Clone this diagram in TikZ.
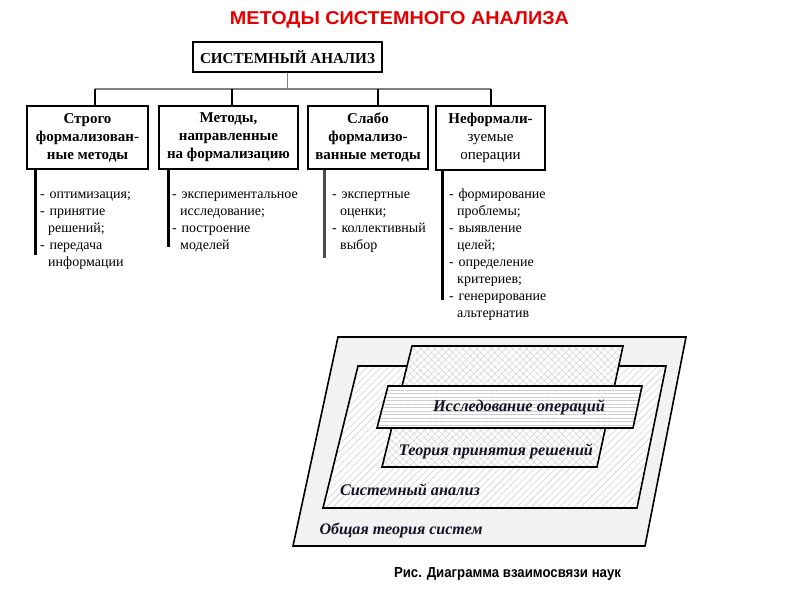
\documentclass[tikz,border=0pt]{standalone}
\usepackage{fontspec}
\setmainfont{Liberation Serif}
\newfontfamily\arialfont{Liberation Sans}
\usetikzlibrary{patterns.meta}
\definecolor{titlered}{RGB}{228,0,0}
\definecolor{inkdark}{RGB}{20,20,40}
\begin{document}
\begin{tikzpicture}[x=1pt,y=-1pt,
  catbox/.style={draw,line width=1.6pt,align=center,inner sep=0pt,font=\bfseries\fontsize{15}{18}\selectfont},
  listnode/.style={anchor=base west,inner sep=0pt,align=left,text width=150pt,font=\fontsize{14}{17}\selectfont},
  vbar/.style={line width=3pt},
  trunk/.style={line width=1.4pt,gray},
  drop/.style={line width=1.4pt},
  plane/.style={line width=1.6pt,line join=miter},
  planelabel/.style={inner sep=0pt,text=inkdark,font=\bfseries\itshape\fontsize{14}{16}\selectfont}
]
\useasboundingbox (0,0) rectangle (800,600);

% title
\node[anchor=base,inner sep=0pt,text=titlered] (title) at (399.5,24)
  {\resizebox{339pt}{13pt}{\arialfont\bfseries МЕТОДЫ СИСТЕМНОГО АНАЛИЗА}};

% top box
\node[catbox,minimum width=189pt,minimum height=30pt] (top) at (287.5,57)
  {\resizebox{175pt}{!}{СИСТЕМНЫЙ АНАЛИЗ}};

% category boxes
\node[catbox,minimum width=121pt,minimum height=63pt] (b1) at (87.5,137.5)
  {Строго\\формализован-\\ные методы};
\node[catbox,minimum width=139pt,minimum height=63pt] (b2) at (228.5,137.5)
  {Методы,\\направленные\\на формализацию};
\node[catbox,minimum width=120pt,minimum height=63pt] (b3) at (368,137.5)
  {Слабо\\формализо-\\ванные методы};
\node[catbox,minimum width=109pt,minimum height=64pt] (b4) at (490.5,138)
  {Неформали-\\\mdseries зуемые\\\mdseries операции};

% tree connectors
\coordinate (hub) at (287.5,89);
\coordinate (j1) at (95,89);
\coordinate (j2) at (232,89);
\coordinate (j3) at (378,89);
\coordinate (j4) at (491,89);
\draw[trunk] (top.south) -- (hub);
\draw[trunk] (j1) -- (j4);
\draw[drop] (j1) -- (j1 |- b1.north);
\draw[drop] (j2) -- (j2 |- b2.north);
\draw[drop] (j3) -- (j3 |- b3.north);
\draw[drop] (j4) -- (j4 |- b4.north);

% list bars
\coordinate (e1) at (35.5,255);
\coordinate (e2) at (168,247);
\coordinate (e3) at (324,258);
\coordinate (e4) at (442,300);
\draw[vbar] (b1.south -| e1) -- (e1);
\draw[vbar] (b2.south -| e2) -- (e2);
\draw[vbar,gray!60!black] (b3.south -| e3) -- (e3);
\draw[vbar] (b4.south -| e4) -- (e4);

% lists
\node[listnode] (l1) at (40,198)
  {- оптимизация;\\- принятие\\\hspace*{8pt}решений;\\- передача\\\hspace*{8pt}информации};
\node[listnode] (l2) at (172,198)
  {- экспериментальное\\\hspace*{8pt}исследование;\\- построение\\\hspace*{8pt}моделей};
\node[listnode] (l3) at (332,198)
  {- экспертные\\\hspace*{8pt}оценки;\\- коллективный\\\hspace*{8pt}выбор};
\node[listnode] (l4) at (449,198)
  {- формирование\\\hspace*{8pt}проблемы;\\- выявление\\\hspace*{8pt}целей;\\- определение\\\hspace*{8pt}критериев;\\- генерирование\\\hspace*{8pt}альтернатив};

% nested planes
\draw[plane,fill=gray!10] (338,337) -- (686,337) -- (645,546) -- (293,546) -- cycle;
\draw[plane,preaction={fill=white},pattern={Lines[angle=45,distance=5pt,line width=0.6pt]},pattern color=gray!35]
  (358,366) -- (666,366) -- (637,508) -- (323,508) -- cycle;
\draw[plane,preaction={fill=white},pattern={Hatch[angle=45,distance=5pt,line width=0.5pt]},pattern color=gray!35]
  (412,346) -- (623,346) -- (597,467) -- (382,467) -- cycle;
\draw[plane,preaction={fill=white},pattern={Lines[angle=0,distance=3.5pt,line width=0.6pt]},pattern color=gray!40]
  (388,386) -- (642,386) -- (633,428) -- (377,428) -- cycle;

\node[planelabel] (lio) at (519,407) {\resizebox{172pt}{!}{Исследование операций}};
\node[planelabel] (ltpr) at (496,451) {\resizebox{194pt}{!}{Теория принятия решений}};
\node[planelabel] (lsa) at (410,490) {\resizebox{140pt}{!}{Системный анализ}};
\node[planelabel] (lots) at (401,530) {\resizebox{163pt}{!}{Общая теория систем}};

% caption
\node[anchor=base,inner sep=0pt] (caption) at (507.5,577)
  {\resizebox{227pt}{10pt}{\arialfont\bfseries Рис. Диаграмма взаимосвязи наук}};
\end{tikzpicture}
\end{document}
